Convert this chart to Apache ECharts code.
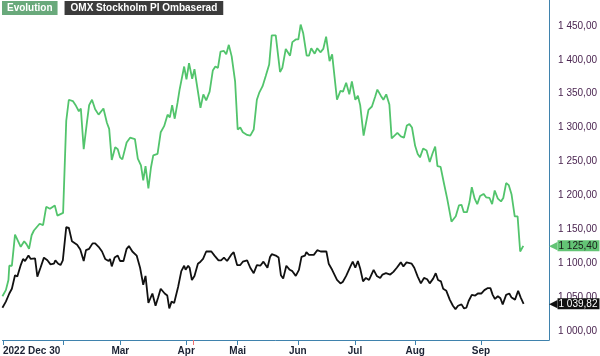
<!DOCTYPE html>
<html>
<head>
<meta charset="utf-8">
<script src="https://cdn.jsdelivr.net/npm/echarts@6/dist/echarts.min.js"></script>
<style>html,body{margin:0;padding:0;background:#fff;}#c{width:600px;height:356px;}</style>
</head>
<body>
<div id="c"></div>
<script>
// Trading-day index (0 = 2022 Dec 30) and rebased values
const evoDay = [0.8,2.0,2.9,3.2,4.1,5.2,7.2,8.4,9.2,10.1,11.0,11.8,13.8,15.0,16.1,17.4,19.1,20.0,22.0,23.1,24.0,25.4,26.5,27.5,28.2,29.2,30.3,31.1,32.1,33.2,34.4,36.1,37.3,38.1,39.0,40.2,41.1,41.9,42.7,44.2,45.4,47.1,48.1,49.2,50.0,50.8,51.8,52.7,53.5,55.0,56.1,57.3,58.5,59.3,60.1,61.0,62.0,62.7,
64.3,65.1,66.0,67.1,67.9,70.0,71.0,72.0,73.2,74.3,75.2,76.1,77.0,78.2,79.0,79.9,80.9,82.1,83.0,83.9,84.8,86.3,87.4,88.6,89.7,90.5,91.7,92.8,94.0,94.9,96.3,97.8,98.6,99.8,101.3,102.1,103.3,104.2,105.0,105.9,107.1,107.9,108.7,109.9,110.8,111.9,112.9,113.9,115.1,116.0,117.7,118.9,119.8,120.9,122.0,122.9,124.1,125.0,125.8,127.0,128.7,129.9,131.0,131.8,133.0,133.9,134.9,136.0,136.8,137.4,138.8,140.0,141.1,142.1,143.0,143.9,145.0,145.9,146.7,147.8,149.0,150.1,151.1,152.0,152.8,153.9,155.1,156.2,157.7,159.2,160.3,161.2,162.0,163.1,164.0,164.8,165.8,166.7,167.7,168.9,169.8,171.0,171.9,172.8,173.9,175.0,175.8,176.8,177.7,178.7,179.8,180.8,181.7,182.8];
const evoVal = [1051,1060,1075,1096,1096,1142,1124,1132,1128,1121,1141,1148,1158,1156,1183,1180,1185,1170,1174,1310,1341,1339,1332,1324,1328,1268,1307,1333,1341,1327,1319,1328,1307,1298,1252,1271,1268,1256,1253,1278,1285,1283,1254,1244,1222,1243,1210,1241,1259,1261,1293,1302,1319,1315,1333,1313,1337,1356,
1390,1371,1395,1372,1386,1329,1349,1340,1353,1384,1390,1388,1412,1413,1408,1422,1405,1368,1297,1300,1293,1289,1288,1297,1341,1351,1361,1376,1393,1436,1436,1382,1388,1416,1406,1426,1430,1430,1452,1439,1406,1406,1417,1409,1417,1411,1416,1434,1398,1408,1341,1354,1353,1366,1349,1368,1341,1347,1333,1288,1326,1331,1345,1356,1347,1341,1349,1334,1284,1284,1292,1287,1285,1303,1305,1300,1273,1261,1256,1269,1266,1249,1262,1272,1243,1242,1217,1195,1161,1169,1185,1186,1175,1175,1190,1212,1195,1187,1199,1202,1197,1196,1187,1207,1195,1191,1196,1218,1215,1201,1169,1169,1117,1125.4];

const omxDay = [0.8,2.0,3.2,4.1,5.2,6.0,7.2,8.0,8.7,9.9,10.7,12.2,13.0,14.1,15.3,16.5,17.6,18.8,19.3,20.3,21.1,21.9,23.1,24.0,25.1,26.9,28.0,29.2,30.0,31.1,32.3,33.2,34.4,35.6,36.7,37.9,38.4,39.0,40.0,41.1,41.9,43.1,44.2,45.0,46.2,47.7,48.9,50.0,50.8,51.8,53.2,54.3,55.2,56.1,57.5,58.4,59.1,59.9,60.8,62.2,63.3,64.3,64.8,65.7,66.2,67.0,67.9,69.1,70.0,70.9,72.0,73.8,74.9,76.3,77.2,78.2,79.3,80.7,81.6,82.8,83.9,84.8,86.3,87.4,88.6,89.7,90.9,92.0,93.4,94.3,94.9,96.3,97.3,98.1,98.9,100.0,101.2,102.1,103.3,104.4,105.3,106.5,107.0,107.9,109.6,110.8,112.0,114.0,114.8,116.0,117.7,118.9,119.7,120.9,122.4,123.2,124.1,125.0,125.8,126.8,127.8,128.9,130.5,131.6,132.8,133.6,134.8,136.3,137.4,138.6,140.0,140.9,142.0,143.8,144.7,145.9,147.0,148.1,149.2,150.1,151.3,152.2,153.0,154.0,154.8,155.9,157.1,158.2,159.1,160.0,161.2,162.1,162.9,163.7,164.8,166.0,166.9,168.1,169.2,170.4,171.3,172.1,172.9,173.9,174.8,175.6,176.8,177.9,178.7,179.9,181.0,181.9,182.9];
const omxVal = [1034,1043,1055,1062,1082,1080,1097,1106,1103,1111,1106,1107,1080,1093,1108,1104,1098,1099,1104,1099,1097,1104,1153,1152,1132,1127,1120,1103,1119,1121,1129,1129,1124,1117,1106,1103,1106,1095,1108,1111,1103,1103,1121,1125,1117,1111,1093,1068,1081,1041,1055,1037,1049,1062,1055,1052,1033,1043,1041,1065,1088,1096,1090,1096,1093,1075,1081,1099,1102,1106,1117,1117,1111,1104,1104,1108,1103,1112,1116,1097,1097,1102,1104,1093,1085,1097,1096,1102,1093,1109,1113,1111,1108,1082,1077,1096,1090,1088,1081,1090,1109,1111,1116,1112,1112,1119,1117,1117,1099,1090,1075,1070,1072,1081,1095,1102,1093,1103,1092,1073,1078,1075,1090,1081,1078,1083,1085,1083,1087,1093,1101,1095,1101,1099,1093,1080,1070,1078,1076,1070,1077,1085,1075,1073,1062,1059,1046,1037,1032,1037,1039,1033,1034,1044,1053,1052,1055,1055,1060,1063,1063,1053,1047,1051,1048,1039,1053,1055,1049,1046,1059,1049,1039.82];

// Axis ticks / labels
const monthTickDays = [1,22,42,65,83,104,124,145,168];
const monthLabelDays = [42,65,83,104,124,145,168];
const monthLabels = ['Mar','Apr','Mai','Jun','Jul','Aug','Sep'];
const startLabelDay = [1];
const startLabel = '2022 Dec 30';
const markerDays = [67.4];
const yTicks = [1000,1050,1100,1150,1200,1250,1300,1350,1400,1450];
const seriesNames = ['Evolution','OMX Stockholm PI Ombaserad'];

function fmt(v){
  const s = Number(v).toFixed(2).split('.');
  return s[0].replace(/\B(?=(\d{3})+(?!\d))/g,' ') + ',' + s[1];
}
const evoData = evoDay.map((d,i)=>[d,evoVal[i]]);
const omxData = omxDay.map((d,i)=>[d,omxVal[i]]);

const axisColor = '#3f82ad';
const X_MIN = 0.83, X_MAX = 191.8;
const FONT = 'Liberation Sans, Arial, sans-serif';

function tag(bg, fg){
  return {
    show:true, position:'end', distance:0,
    formatter:(p)=>'{a|\u25C0}{b|' + fmt(p.value) + '}',
    rich:{
      a:{color:bg, fontFamily:'DejaVu Sans', fontSize:11, lineHeight:13, padding:[0,0,0,0]},
      b:{backgroundColor:bg, color:fg, fontFamily:FONT, fontSize:10, lineHeight:12, padding:[1,2,0,1]}
    }
  };
}

const chart = echarts.init(document.getElementById('c'), null, {renderer:'canvas'});
chart.setOption({
  animation:false,
  backgroundColor:'#fff',
  grid:{left:0,right:50,top:0,bottom:14,containLabel:false},
  legend:{
    left:-3, top:1, padding:0, itemWidth:0, itemHeight:0, itemGap:2, icon:'rect',
    selectedMode:false,
    textStyle:{fontFamily:FONT,fontSize:10,fontWeight:'bold',color:'#fff'},
    data:[
      {name:seriesNames[0], textStyle:{backgroundColor:'#69a97b',padding:[2,5,2,5],color:'#fff'}},
      {name:seriesNames[1], textStyle:{backgroundColor:'#3b3b3b',padding:[2,6,2,6],color:'#fff'}}
    ]
  },
  xAxis:[{
    type:'value', min:X_MIN, max:X_MAX,
    axisLine:{show:true,lineStyle:{color:axisColor,width:1}},
    axisTick:{show:true,length:5,lineStyle:{color:axisColor},customValues:monthTickDays},
    splitLine:{show:false},
    axisLabel:{
      customValues:monthLabelDays, margin:6,
      fontFamily:FONT, fontSize:10, fontWeight:'bold', color:'#1b2233',
      formatter:(v)=>{const i=monthLabelDays.indexOf(v);return i>=0?monthLabels[i]:'';}
    }
  },{
    type:'value', min:X_MIN, max:X_MAX, position:'bottom', gridIndex:0,
    axisLine:{show:false},
    axisTick:{show:true,length:5,lineStyle:{color:'#f07070'},customValues:markerDays},
    splitLine:{show:false},
    axisLabel:{
      customValues:startLabelDay, margin:6, align:'left',
      fontFamily:FONT, fontSize:10, fontWeight:'bold', color:'#1b2233',
      formatter:()=>startLabel
    }
  }],
  yAxis:{
    type:'value', position:'right', min:986.4, max:1488.2,
    axisLine:{show:true,lineStyle:{color:axisColor,width:1}},
    axisTick:{show:false},
    splitLine:{show:false},
    axisLabel:{
      customValues:yTicks, margin:9,
      fontFamily:FONT, fontSize:10, color:'#4a2450',
      formatter:(v)=>fmt(v)
    }
  },
  series:[{
    name:seriesNames[0], type:'line', data:evoData, showSymbol:false, symbol:'none', z:3,
    lineStyle:{color:'#52c46c',width:1.8}, itemStyle:{color:'#52c46c'},
    markLine:{
      silent:true, symbol:['none','none'], animation:false,
      lineStyle:{color:'rgba(0,0,0,0)',width:0},
      label:tag('#63c475','#1a1a1a'),
      data:[{yAxis:evoVal[evoVal.length-1]}]
    }
  },{
    name:seriesNames[1], type:'line', data:omxData, showSymbol:false, symbol:'none', z:3,
    lineStyle:{color:'#111',width:1.8}, itemStyle:{color:'#111'},
    markLine:{
      silent:true, symbol:['none','none'], animation:false,
      lineStyle:{color:'rgba(0,0,0,0)',width:0},
      label:tag('#111111','#ffffff'),
      data:[{yAxis:omxVal[omxVal.length-1]}]
    }
  }]
});
</script>
</body>
</html>
